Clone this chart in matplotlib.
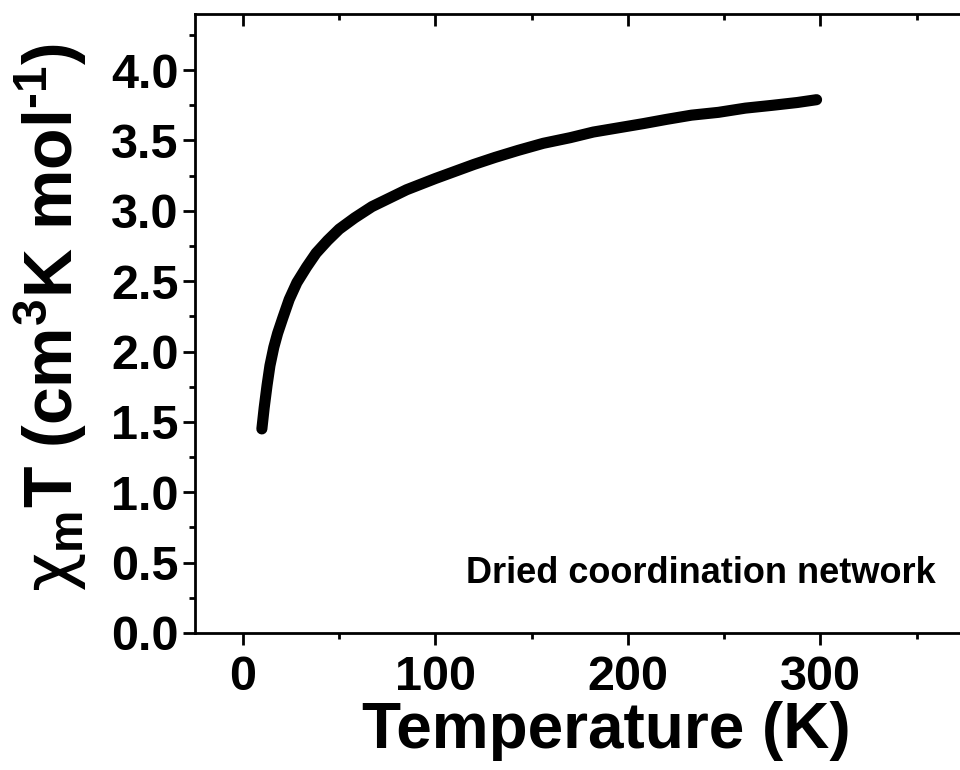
import matplotlib
matplotlib.use("Agg")
import matplotlib.pyplot as plt
from matplotlib.ticker import MultipleLocator, FormatStrFormatter

plt.rcParams["font.family"] = ["Liberation Sans", "DejaVu Sans"]
plt.rcParams["font.weight"] = "bold"
plt.rcParams["mathtext.fontset"] = "custom"
plt.rcParams["mathtext.rm"] = "Liberation Sans:weight=bold"
plt.rcParams["mathtext.it"] = "Liberation Sans:weight=bold"
plt.rcParams["mathtext.bf"] = "Liberation Sans:weight=bold"
plt.rcParams["mathtext.sf"] = "DejaVu Sans:weight=normal"

# chi_m*T vs temperature
temp = [9.8, 11, 12.5, 14, 16, 18, 20.7, 24, 28, 33, 38, 44, 50, 58, 67, 76, 85, 100, 110,
        120, 131, 143, 156, 170, 182, 195, 208, 220, 233, 247, 261, 275, 288, 298]
chi_t = [1.45, 1.60, 1.76, 1.90, 2.03, 2.13, 2.24, 2.37, 2.49, 2.60, 2.70, 2.79, 2.87, 2.95, 3.03, 3.09, 3.15, 3.23, 3.28,
         3.33, 3.38, 3.43, 3.48, 3.52, 3.56, 3.59, 3.62, 3.65, 3.68, 3.70, 3.73, 3.75, 3.77, 3.79]

fig = plt.figure(figsize=(9.6, 7.7), dpi=100)
ax = fig.add_axes([0.203, 0.178, 0.802, 0.804])

ax.plot(temp, chi_t, color="black", linewidth=8, solid_capstyle="round", solid_joinstyle="round")

ax.set_xlim(-25, 375)
ax.set_ylim(0, 4.4)
ax.xaxis.set_major_locator(MultipleLocator(100))
ax.xaxis.set_minor_locator(MultipleLocator(50))
ax.yaxis.set_major_locator(MultipleLocator(0.5))
ax.yaxis.set_minor_locator(MultipleLocator(0.25))
ax.yaxis.set_major_formatter(FormatStrFormatter("%.1f"))

for s in ax.spines.values():
    s.set_linewidth(2)

ax.tick_params(which="both", width=2, labelsize=35)
ax.tick_params(which="major", length=8.6)
ax.tick_params(which="minor", length=4.3)
ax.tick_params(axis="x", which="both", direction="out", top=True, pad=7)
ax.tick_params(axis="y", which="both", direction="out", right=True, pad=3)
# top and right ticks point inward
for t in ax.xaxis.get_major_ticks() + ax.xaxis.get_minor_ticks():
    t.tick2line.set_marker(3)
for t in ax.yaxis.get_major_ticks() + ax.yaxis.get_minor_ticks():
    t.tick2line.set_marker(4)

ax.set_xlabel("Temperature (K)", fontsize=46, fontweight="bold")
ax.xaxis.set_label_coords(0.535, -0.11)
ax.set_ylabel("$\\mathsf{\\chi}_{\\mathrm{m}}$T (cm$^{3}$K mol$^{\u20101}$)", fontsize=49, fontweight="bold")
ax.yaxis.set_label_coords(-0.137, 0.51)

ax.text(360, 0.355, "Dried coordination network", fontsize=26, fontweight="bold", ha="right", va="baseline")

fig.savefig("out.png", dpi=100)
